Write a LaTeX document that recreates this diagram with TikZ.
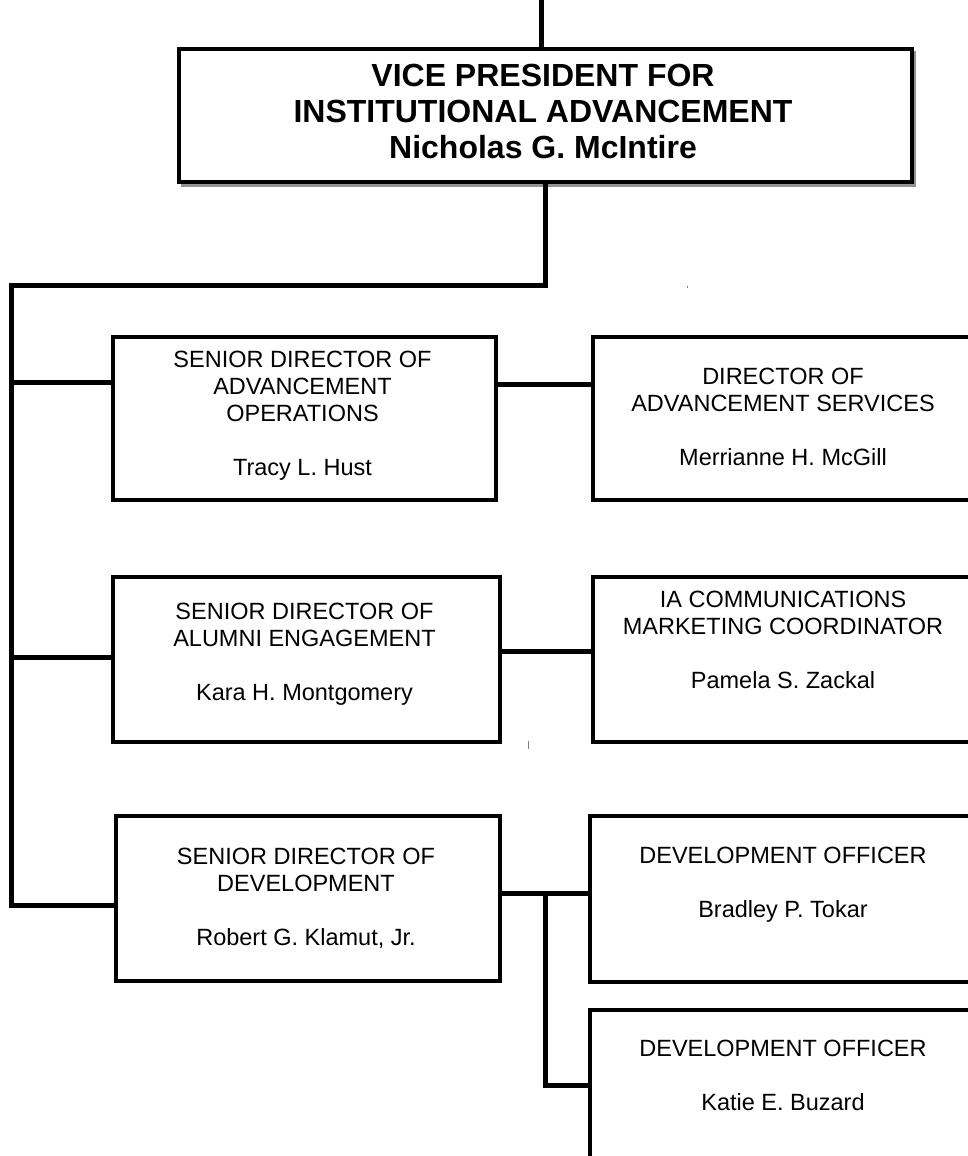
\documentclass[tikz,border=0pt]{standalone}
\usepackage{fontspec}
\setmainfont{Liberation Sans}
\begin{document}
\begin{tikzpicture}[x=1pt,y=-1pt,line join=miter,
  box/.style={draw, line width=4pt, fill=white, rectangle, inner sep=0pt, anchor=north west},
  txt/.style={align=center, inner sep=0pt, anchor=north, font=\fontsize{23.5}{27}\selectfont},
  vptxt/.style={align=center, inner sep=0pt, anchor=north, font=\bfseries\fontsize{32}{36}\selectfont},
  conn/.style={line width=5pt},
  speck/.style={line width=1pt, gray}]
\useasboundingbox (0,0) rectangle (968,1156);
\clip (0,0) rectangle (968,1156);
% shadow of the top box
\fill[gray!85] (181,51) rectangle (916,187);
% boxes
\node[box, minimum width=733pt, minimum height=133pt] (vp) at (177,47) {};
\node[box, minimum width=383pt, minimum height=163pt] (b1) at (111,335) {};
\node[box, minimum width=389pt, minimum height=163pt] (b2) at (591,335) {};
\node[box, minimum width=387pt, minimum height=165pt] (b3) at (111,575) {};
\node[box, minimum width=389pt, minimum height=165pt] (b4) at (591,575) {};
\node[box, minimum width=384pt, minimum height=165pt] (b5) at (114,814) {};
\node[box, minimum width=392pt, minimum height=166pt] (b6) at (588,814) {};
\node[box, minimum width=392pt, minimum height=200pt] (b7) at (588,1008) {};
% texts
\node[vptxt] (tvp) at (543,64) {VICE PRESIDENT FOR\\INSTITUTIONAL ADVANCEMENT\\Nicholas G. McIntire};
\node[txt] (t1) at (302.5,351) {SENIOR DIRECTOR OF\\ADVANCEMENT\\OPERATIONS\\[27pt]Tracy L. Hust};
\node[txt] (t2) at (783,368) {DIRECTOR OF\\ADVANCEMENT SERVICES\\[27pt]Merrianne H. McGill};
\node[txt] (t3) at (304.5,602.5) {SENIOR DIRECTOR OF\\ALUMNI ENGAGEMENT\\[27pt]Kara H. Montgomery};
\node[txt] (t4) at (783,591) {IA COMMUNICATIONS\\MARKETING COORDINATOR\\[27pt]Pamela S. Zackal};
\node[txt] (t5) at (306,847.5) {SENIOR DIRECTOR OF\\DEVELOPMENT\\[27pt]Robert G. Klamut, Jr.};
\node[txt] (t6) at (783,846.5) {DEVELOPMENT OFFICER\\[27pt]Bradley P. Tokar};
\node[txt] (t7) at (783,1039.5) {DEVELOPMENT OFFICER\\[27pt]Katie E. Buzard};
% connector coordinates
\coordinate (top) at (541,0);
\coordinate (j0) at (545,285);
\coordinate (trunkTop) at (11,285);
\coordinate (trunkBot) at (11,905);
\coordinate (t1y) at (11,382);
\coordinate (t3y) at (11,657);
\coordinate (c12) at (0,384);
\coordinate (c34) at (0,651);
\coordinate (c56) at (0,893);
\coordinate (v0) at (545,893);
\coordinate (v1) at (545,1085);
% connectors
\draw[conn] (top) -- (top |- vp.north);
\draw[conn] (vp.south -| j0) -- (j0) -- (trunkTop) -- (trunkBot) -- (trunkBot -| b5.west);
\draw[conn] (t1y) -- (t1y -| b1.west);
\draw[conn] (t3y) -- (t3y -| b3.west);
\draw[conn] (b1.east |- c12) -- (b2.west |- c12);
\draw[conn] (b3.east |- c34) -- ([xshift=4pt]b4.west |- c34);
\draw[conn] (b5.east |- c56) -- (b6.west |- c56);
\draw[conn] (v0) -- (v1) -- (v1 -| b7.west);
% stray specks
\draw[speck] (528,741) -- (528,749);
\draw[speck] (687,286) -- (687,288);
\end{tikzpicture}
\end{document}
